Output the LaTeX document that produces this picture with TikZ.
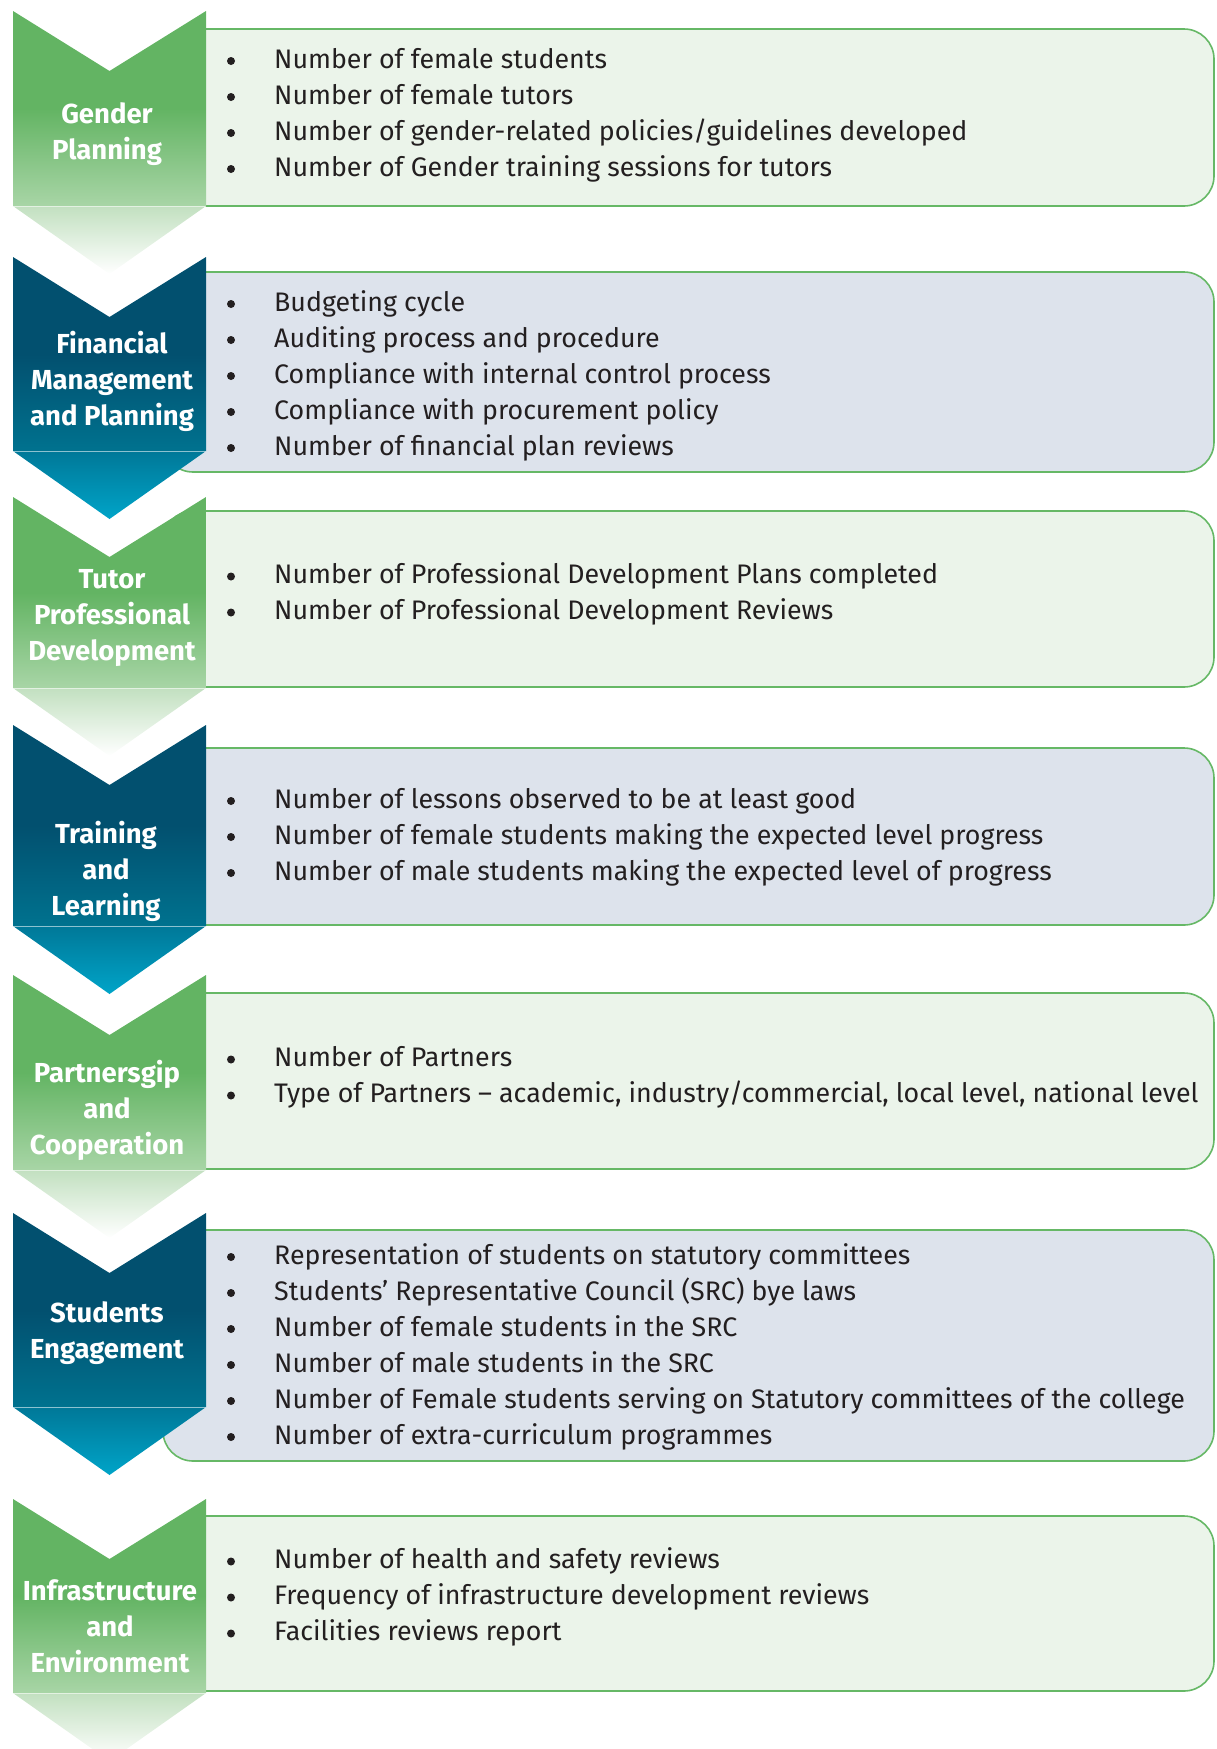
\documentclass[tikz,border=0pt]{standalone}
\usepackage{fontspec}
\setmainfont{Fira Sans}

\definecolor{ink}{HTML}{231F20}
\definecolor{edge}{HTML}{66B866}
\definecolor{gfill}{HTML}{EBF4EA}
\definecolor{bfill}{HTML}{DDE3EC}
\definecolor{gTop}{HTML}{63B463}
\definecolor{gLow}{HTML}{A8D5A6}
\definecolor{gTip}{HTML}{C2E0C0}
\definecolor{bTop}{HTML}{02506F}
\definecolor{bLow}{HTML}{00728F}
\definecolor{bTip}{HTML}{007898}
\definecolor{bTipEnd}{HTML}{00A4C8}

% chevron: #1 body top colour, #2 body low colour, #3 tip top, #4 tip end, #5 top y, #6 body bottom y
\newcommand\drawchevron[6]{%
  \shade[top color=#1, bottom color=#2, middle color=#1]
    (13,#5) -- (109.5,#5+60) -- (206,#5) -- (206,#6) -- (13,#6) -- cycle;
  \shade[top color=#3, bottom color=#4]
    (13,#6) -- (206,#6) -- (109.5,#6+68) -- cycle;
  \draw[white, opacity=0.55, line width=0.8pt] (13,#6) -- (206,#6);
}

% bullet list: #1 stage name, #2 centre y of first line, #3 items
\newcommand\bulletlist[3]{%
  \foreach \t [count=\i] in {#3} {
    \node[dot] (#1-b\i) at (231,#2+2+36*\i-36) {};
    \node[item] (#1-i\i) at (274,#2+9+36*\i-36) {\t};
  }
}

\begin{document}
\begin{tikzpicture}[x=1pt,y=-1pt,
  item/.style={anchor=base west, inner sep=0pt, text=ink, font=\fontsize{26.8}{36}\selectfont},
  dot/.style={circle, fill=ink, inner sep=0pt, minimum size=8pt},
  title/.style={align=center, inner sep=0pt, text=white, font=\fontsize{27.5}{36}\selectfont\bfseries},
  panelg/.style={draw=edge, line width=1.6pt, fill=gfill, rounded corners=30pt},
  panelb/.style={draw=edge, line width=1.6pt, fill=bfill, rounded corners=30pt}]
\useasboundingbox (0,0) rectangle (1216,1749);
\clip (0,0) rectangle (1216,1749);

% panels behind the chevrons
\draw[panelg] (163,29)   rectangle (1214,206);
\draw[panelb] (163,272)  rectangle (1214,472);
\draw[panelg] (163,511)  rectangle (1214,687);
\draw[panelb] (163,748)  rectangle (1214,925);
\draw[panelg] (163,993)  rectangle (1214,1169);
\draw[panelb] (163,1230) rectangle (1214,1461);
\draw[panelg] (163,1516) rectangle (1214,1691);

% chevrons
\drawchevron{gTop}{gLow}{gTip}{white}{11}{206}
\drawchevron{bTop}{bLow}{bTip}{bTipEnd}{257}{451}
\drawchevron{gTop}{gLow}{gTip}{white}{497}{688}
\drawchevron{bTop}{bLow}{bTip}{bTipEnd}{725}{926}
\drawchevron{gTop}{gLow}{gTip}{white}{975}{1170}
\drawchevron{bTop}{bLow}{bTip}{bTipEnd}{1213}{1407}
\drawchevron{gTop}{gLow}{gTip}{white}{1499}{1693}

% stage titles
\node[title] (gender)  at (107,134)  {Gender\\Planning};
\node[title] (finance) at (112,381)  {Financial\\Management\\and Planning};
\node[title] (tutor)   at (112,618)  {Tutor\\Professional\\Development};
\node[title] (train)   at (106,871)  {Training\\and\\Learning};
\node[title] (partner) at (107,1110) {Partnersgip\\and\\Cooperation};
\node[title] (student) at (107,1333) {Students\\Engagement};
\node[title] (infra)   at (110,1626) {Infrastructure\\and\\Environment};

% indicators
\bulletlist{gender}{59}{Number of female students,
  Number of female tutors,
  Number of gender-related policies/guidelines developed,
  Number of Gender training sessions for tutors}
\bulletlist{finance}{302}{Budgeting cycle,
  Auditing process and procedure,
  Compliance with internal control process,
  Compliance with procurement policy,
  Number of financial plan reviews}
\bulletlist{tutor}{574.5}{Number of Professional Development Plans completed,
  Number of Professional Development Reviews}
\bulletlist{train}{799}{Number of lessons observed to be at least good,
  Number of female students making the expected level progress,
  Number of male students making the expected level of progress}
\bulletlist{partner}{1057.5}{Number of Partners,
  {Type of Partners – academic, industry/commercial, local level, national level}}
\bulletlist{student}{1255}{Representation of students on statutory committees,
  Students’ Representative Council (SRC) bye laws,
  Number of female students in the SRC,
  Number of male students in the SRC,
  Number of Female students serving on Statutory committees of the college,
  Number of extra-curriculum programmes}
\bulletlist{infra}{1559.5}{Number of health and safety reviews,
  Frequency of infrastructure development reviews,
  Facilities reviews report}
\end{tikzpicture}
\end{document}
